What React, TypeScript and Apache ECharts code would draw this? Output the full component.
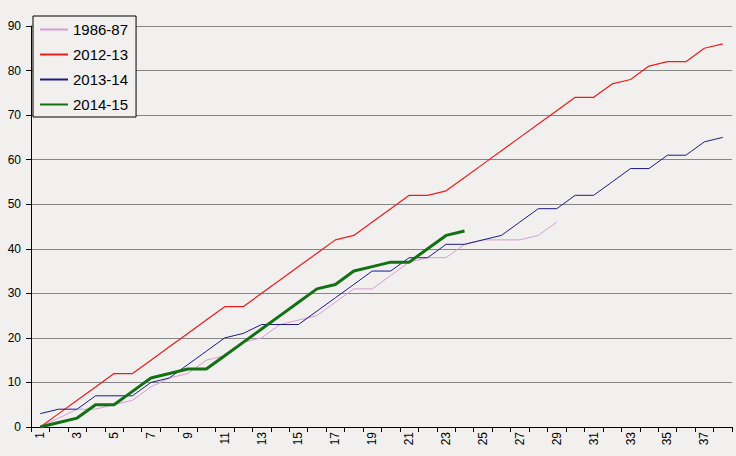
import React, { useEffect, useRef } from "react";
import * as echarts from "echarts";

const categories: string[] = Array.from({ length: 38 }, (_, i) => String(i + 1));

const s1986: number[] = [0, 2, 4, 4, 5, 6, 9, 11, 12, 15, 16, 19, 20, 23, 24, 25, 28, 31, 31, 34, 37, 38, 38, 41, 42, 42, 42, 43, 46];
const s2012: number[] = [0, 3, 6, 9, 12, 12, 15, 18, 21, 24, 27, 27, 30, 33, 36, 39, 42, 43, 46, 49, 52, 52, 53, 56, 59, 62, 65, 68, 71, 74, 74, 77, 78, 81, 82, 82, 85, 86];
const s2013: number[] = [3, 4, 4, 7, 7, 7, 10, 11, 14, 17, 20, 21, 23, 23, 23, 26, 29, 32, 35, 35, 38, 38, 41, 41, 42, 43, 46, 49, 49, 52, 52, 55, 58, 58, 61, 61, 64, 65];
const s2014: number[] = [0, 1, 2, 5, 5, 8, 11, 12, 13, 13, 16, 19, 22, 25, 28, 31, 32, 35, 36, 37, 37, 40, 43, 44];

const seriesNames = ["1986-87", "2012-13", "2013-14", "2014-15"];

const FONT = "'Liberation Sans', Arial, sans-serif";

export default function App() {
  const ref = useRef<HTMLDivElement>(null);
  useEffect(() => {
    if (!ref.current) return;
    const chart = echarts.init(ref.current, undefined, { renderer: "svg" });
    const mk = (name: string, data: number[], color: string, width: number) => ({
      name,
      type: "line",
      data,
      symbol: "none",
      showSymbol: false,
      lineStyle: { color, width },
      itemStyle: { color },
      z: 3,
    });
    chart.setOption({
      animation: false,
      backgroundColor: "#f1f0ee",
      grid: { left: 31, right: 4, top: 26, bottom: 29, containLabel: false },
      legend: {
        orient: "vertical",
        left: 33,
        top: 16,
        padding: [6, 8, 5, 6],
        itemGap: 10,
        itemWidth: 28,
        itemHeight: 14,
        backgroundColor: "#f1f0ee",
        borderColor: "#000",
        borderWidth: 1,
        borderRadius: 0,
        itemStyle: { opacity: 0 },
        textStyle: { fontFamily: FONT, fontSize: 15, color: "#000" },
        data: seriesNames,
        z: 10,
      },
      xAxis: {
        type: "category",
        data: categories,
        boundaryGap: true,
        axisLine: { show: true, lineStyle: { color: "#000", width: 1 } },
        axisTick: { show: true, interval: 0, length: 5, lineStyle: { color: "#000" } },
        axisLabel: {
          interval: 1,
          rotate: 90,
          fontFamily: FONT,
          fontSize: 12,
          color: "#000",
          margin: 5,
        },
        splitLine: { show: false },
      },
      yAxis: {
        type: "value",
        min: 0,
        max: 90,
        interval: 10,
        axisLine: { show: true, lineStyle: { color: "#000", width: 1 } },
        axisTick: { show: true, length: 5, lineStyle: { color: "#000" } },
        axisLabel: { fontFamily: FONT, fontSize: 12, color: "#000", margin: 10 },
        splitLine: { show: true, lineStyle: { color: "#858585", width: 1 } },
      },
      series: [
        mk(seriesNames[0], s1986, "#d99ad2", 1),
        mk(seriesNames[1], s2012, "#ee1c1c", 1.2),
        mk(seriesNames[2], s2013, "#1a1a8a", 1),
        mk(seriesNames[3], s2014, "#137013", 3),
      ],
    });
    return () => chart.dispose();
  }, []);
  return (
    <div
      ref={ref}
      style={{ position: "fixed", left: 0, top: 0, width: 736, height: 456 }}
    />
  );
}
